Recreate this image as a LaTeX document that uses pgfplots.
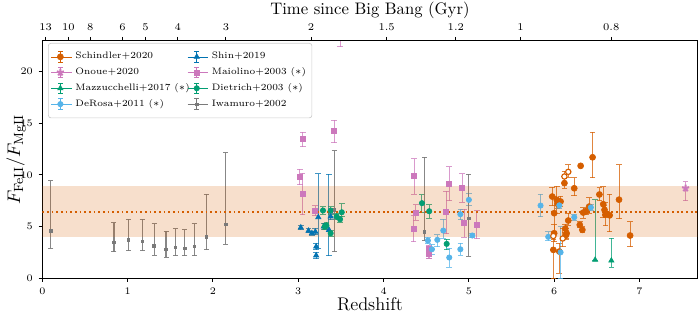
\documentclass[border=0pt]{standalone}
\usepackage{pgfplots}
\usepackage{pgfplotstable}
\pgfplotsset{compat=1.18}
\definecolor{cOrange}{HTML}{D55E00}
\definecolor{cPink}{HTML}{CC78BC}
\definecolor{cGreen}{HTML}{029E73}
\definecolor{cSky}{HTML}{56B4E9}
\definecolor{cBlue}{HTML}{0173B2}
\definecolor{cGrey}{HTML}{7A7A7A}

\pgfplotstableread{
z F ep em
5.977 7.90 0.9 0.9
6.00 6.29 1.6 1.8
6.00 4.35 0.8 0.8
5.99 2.74 1.6 2.74
6.03 7.58 1.3 1.3
6.06 2.58 0.8 2.1
6.075 7.42 0.5 0.5
6.04 7.20 0.5 0.5
6.12 9.20 0.8 0.5
6.145 4.35 0.5 0.5
6.14 4.19 0.4 0.4
6.13 4.80 0.4 0.4
6.165 5.58 0.7 0.45
6.235 8.70 1.0 0.7
6.31 10.87 0.15 0.15
6.30 5.16 0.3 0.3
6.33 4.68 0.3 0.3
6.34 6.35 0.45 0.55
6.37 6.45 0.3 0.3
6.41 6.93 0.87 0.65
6.45 11.70 2.43 1.96
6.53 8.10 0.65 0.60
6.575 7.16 1.70 1.30
6.59 6.61 0.40 0.40
6.60 6.13 1.20 1.07
6.65 6.08 2.05 1.60
6.76 7.60 3.37 1.86
6.89 4.13 1.35 1.10
}\schindler

\pgfplotstableread{
z F ep em
5.99 4.08 0.3 0.3
6.10 3.84 1.0 0.8
6.12 9.84 0.5 0.5
6.165 10.29 0.7 0.5
}\schindleropen

\pgfplotstableread{
z F ep em
7.54 8.70 0.65 1.22
}\onoue

\pgfplotstableread{
z F ep em
6.48 1.77 5.81 0.10
6.67 1.70 2.17 0.64
}\mazz

\pgfplotstableread{
z F ep em
4.52 3.64 0.30 0.30
4.567 2.80 0.50 0.50
4.63 3.71 0.50 0.65
4.70 4.61 1.10 0.74
4.77 2.00 0.90 0.94
4.90 2.80 0.60 0.60
4.90 6.19 0.50 0.55
5.00 7.58 0.58 0.58
5.04 4.13 0.20 0.20
5.84 7.03 1.10 1.07
5.93 4.00 0.48 0.40
6.06 7.05 0.30 0.30
6.075 2.50 2.50 2.50
6.235 5.90 0.30 0.30
6.43 6.85 0.30 0.30
}\derosa

\pgfplotstableread{
z F ep em
3.03 4.90 0.20 0.20
3.12 4.58 0.20 0.20
3.16 4.35 0.20 0.20
3.20 4.50 0.30 0.30
3.21 3.06 0.30 0.30
3.21 2.20 0.30 0.30
3.235 5.90 4.20 3.00
3.30 5.00 0.30 0.30
3.36 4.67 5.40 2.50
3.38 5.97 0.30 0.30
}\shin

\pgfplotstableread{
z F ep em
3.055 13.46 0.67 0.72
3.02 9.78 0.77 0.75
3.05 8.16 2.00 2.00
3.20 6.55 0.45 0.50
3.42 14.29 1.00 1.20
3.49 26.00 1.00 3.60
4.36 9.87 1.70 1.74
4.38 6.35 0.75 0.75
4.35 4.80 1.26 1.25
4.53 2.80 0.40 0.87
4.535 2.35 0.40 0.40
4.77 9.16 1.64 1.68
4.735 6.39 2.00 2.10
4.92 8.74 1.36 1.39
4.945 5.38 1.30 1.41
5.095 5.16 1.35 1.36
}\maiolino

\pgfplotstableread{
z F ep em
3.29 6.55 0.35 0.35
3.31 5.00 0.30 0.30
3.33 5.10 0.30 0.30
3.38 6.55 0.35 0.35
3.38 4.35 0.30 0.30
3.45 5.97 0.30 0.30
3.49 5.70 0.30 0.30
3.51 6.38 0.80 0.40
4.45 7.26 0.80 0.90
4.535 6.48 0.65 0.68
4.74 3.32 0.45 0.58
}\dietrich

\pgfplotstableread{
z F ep em
0.10 4.58 4.87 1.68
0.84 3.45 1.93 0.90
1.01 3.71 2.00 1.04
1.17 3.58 2.12 0.91
1.31 3.13 2.13 0.91
1.45 2.80 1.75 0.77
1.56 3.00 1.77 0.84
1.67 2.90 1.78 0.74
1.78 3.06 2.23 0.90
1.92 4.00 4.13 1.26
2.15 5.22 6.91 1.93
3.42 6.60 5.75 4.02
4.48 4.50 7.20 0.86
5.00 5.80 4.27 3.70
}\iwamuro

\pgfplotsset{
  eb/.style={error bars/.cd, y dir=both, y explicit,
    error bar style={line width=0.6pt, opacity=0.75},
    error mark options={rotate=90, mark size=1.7pt, line width=0.6pt, opacity=0.75}},
  ebg/.style={error bars/.cd, y dir=both, y explicit,
    error bar style={line width=0.65pt, opacity=0.9},
    error mark options={rotate=90, mark size=1.5pt, line width=0.65pt, opacity=0.9}},
}

\begin{document}
\begin{tikzpicture}
\begin{axis}[
  name=main,
  scale only axis, width=393.3pt, height=142.7pt,
  xmin=0, xmax=7.68, ymin=0, ymax=23,
  xtick={0,1,2,3,4,5,6,7}, ytick={0,5,10,15,20},
  xtick pos=left, ytick pos=left, tick align=outside,
  major tick length=2.2pt,
  axis line style={line width=0.6pt},
  tick style={line width=0.6pt, black},
  tick label style={font=\fontsize{6.2}{7}\selectfont},
  xlabel={Redshift},
  ylabel={$F_{\rm FeII}/F_{\rm MgII}$},
  xlabel style={font=\fontsize{11}{13}\selectfont, at={(axis description cs:0.5,-0.108)}, anchor=center},
  ylabel style={font=\fontsize{11}{13}\selectfont, at={(axis description cs:-0.04,0.5)}, anchor=center},
  legend columns=2,
  legend cell align=left,
  legend style={at={(0.0087,0.9895)}, anchor=north west,
    font=\fontsize{5.6}{6.5}\selectfont, draw=black!20, rounded corners=1.5pt,
    fill=white, inner xsep=1.5pt, inner ysep=3.4pt, row sep=-0.2pt,
    /tikz/every even column/.append style={column sep=-3.5pt}},
  legend image code/.code={
    \path (0cm,0cm) -- (0.435cm,0cm);
    \draw[line width=0.6pt, #1] (0.194cm,-0.11cm) -- (0.194cm,0.11cm);
    \draw[line width=0.6pt, #1] (0.144cm,0.11cm) -- (0.244cm,0.11cm) (0.144cm,-0.11cm) -- (0.244cm,-0.11cm);
    \draw[#1] plot coordinates {(0.194cm,0cm)};
  },
]
\addplot[only marks, mark=*, mark size=1.8pt, color=cOrange, eb]
  table[x=z, y=F, y error plus=ep, y error minus=em]{\schindler};
\addlegendentry{Schindler+2020}
\addplot[only marks, mark=triangle*, mark size=1.8pt, color=cBlue, eb]
  table[x=z, y=F, y error plus=ep, y error minus=em]{\shin};
\addlegendentry{Shin+2019}
\addplot[only marks, mark=star, mark size=2.2pt, color=cPink, mark options={line width=1.2pt}, eb]
  table[x=z, y=F, y error plus=ep, y error minus=em]{\onoue};
\addlegendentry{Onoue+2020}
\addplot[only marks, mark=square*, mark size=1.5pt, color=cPink, eb]
  table[x=z, y=F, y error plus=ep, y error minus=em]{\maiolino};
\addlegendentry{Maiolino+2003 ($\ast$)}
\addplot[only marks, mark=triangle*, mark size=1.8pt, color=cGreen, eb]
  table[x=z, y=F, y error plus=ep, y error minus=em]{\mazz};
\addlegendentry{Mazzucchelli+2017 ($\ast$)}
\addplot[only marks, mark=*, mark size=1.6pt, color=cGreen, eb]
  table[x=z, y=F, y error plus=ep, y error minus=em]{\dietrich};
\addlegendentry{Dietrich+2003 ($\ast$)}
\addplot[only marks, mark=*, mark size=1.6pt, color=cSky, eb]
  table[x=z, y=F, y error plus=ep, y error minus=em]{\derosa};
\addlegendentry{DeRosa+2011 ($\ast$)}
\addplot[only marks, mark=square*, mark size=0.75pt, color=cGrey, ebg]
  table[x=z, y=F, y error plus=ep, y error minus=em]{\iwamuro};
\addlegendentry{Iwamuro+2002}
\addplot[only marks, mark=*, mark size=1.6pt, color=cOrange, mark options={fill=white, line width=0.7pt}, forget plot, eb]
  table[x=z, y=F, y error plus=ep, y error minus=em]{\schindleropen};
% band and mean
\addplot[draw=none, fill=cOrange, fill opacity=0.2, forget plot]
  coordinates {(0,3.95) (7.68,3.95) (7.68,8.9) (0,8.9)} -- cycle;
\addplot[cOrange, line width=1.1pt, dash pattern=on 1.1pt off 1.7pt, forget plot]
  coordinates {(0,6.4) (7.68,6.4)};
\end{axis}
\begin{axis}[
  scale only axis, width=393.3pt, height=142.7pt,
  xmin=0, xmax=7.68, ymin=0, ymax=1,
  axis x line*=top, axis y line=none,
  tick align=outside, major tick length=2.2pt,
  axis line style={line width=0.6pt},
  tick style={line width=0.6pt, black},
  xtick={0.039,0.306,0.562,0.940,1.211,1.587,2.153,3.150,4.036,4.847,5.605,6.669},
  xticklabels={13,10,8,6,5,4,3,2,1.5,1.2,1,0.8},
  tick label style={font=\fontsize{6.2}{7}\selectfont},
  xlabel={Time since Big Bang (Gyr)},
  xlabel style={font=\fontsize{10}{12}\selectfont, at={(axis description cs:0.5,1.128)}, anchor=center},
]
\end{axis}
\pgfresetboundingbox
\useasboundingbox ([shift={(-25.4pt,-20.8pt)}]main.south west) rectangle ([shift={(1.5pt,24.3pt)}]main.north east);
\end{tikzpicture}
\end{document}
